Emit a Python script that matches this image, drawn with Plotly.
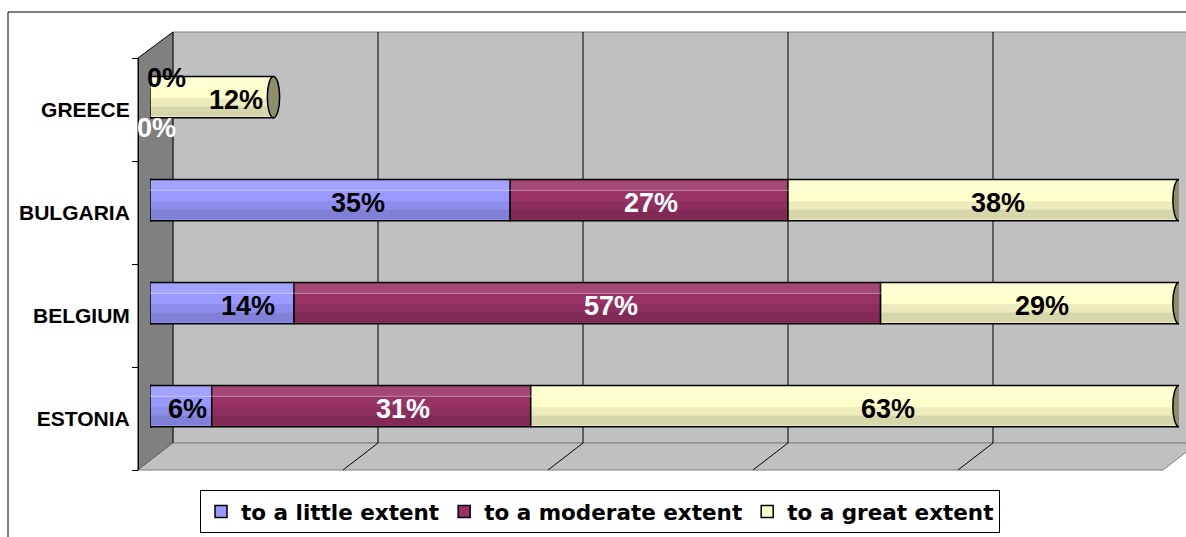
import plotly.graph_objects as go

# ---------------- data ----------------
categories = ["ESTONIA", "BELGIUM", "BULGARIA", "GREECE"]
series_names = ["to a little extent", "to a moderate extent", "to a great extent"]
little = [6, 14, 35, 0]
moderate = [31, 57, 27, 0]
great = [63, 29, 38, 12]
grid_values = [20, 40, 60, 80]

# ---------------- style ----------------
colors = ["#9999FF", "#993366", "#FFFFCC"]
label_colors = ["black", "white", "black"]
# horizontal nudges (px) of the value labels, as placed by the original 3-D renderer
label_nudge = [
    [7, 26, 28, 16],
    [32, 24, 2, 6],
    [33, 12, 15, 24],
]
# vertical nudges used only for zero-width segments (stacked above / below the bar)
zero_lift = [19.5, -30.5, 0]
cap_color = "#8E8E6C"
W, H = 1186, 537
ARIAL = "Arial, Liberation Sans, sans-serif"
LEGEND_FONT = "DejaVu Sans, sans-serif"
BAR_W = 0.40
BAR_OFF = -0.079

# cylinder shading bands: (start fraction from bottom, height fraction, rgba overlay)
shade_bands = [
    (0.03, 0.24, "rgba(0,0,0,0.16)"),
    (0.27, 0.20, "rgba(0,0,0,0.08)"),
    (0.72, 0.03, "rgba(255,255,255,0.35)"),
    (0.75, 0.22, "rgba(255,255,255,0.10)"),
]


def px(x):
    return x / W


def py(y):
    return 1 - y / H


series = [little, moderate, great]
fig = go.Figure()

# main bars (legend entries)
bases_list = []
bases = [0] * len(categories)
for name, vals, col in zip(series_names, series, colors):
    bases_list.append(list(bases))
    fig.add_trace(go.Bar(
        y=categories, x=vals, base=list(bases), orientation="h", name=name,
        marker=dict(color=col, line=dict(color="black", width=1.5)),
        width=BAR_W, offset=BAR_OFF,
        hovertemplate="%{y}: %{x}%<extra>" + name + "</extra>",
    ))
    bases = [b + v for b, v in zip(bases, vals)]
totals = bases

# shading overlays across the whole cylinder
for start, frac, rgba in shade_bands:
    fig.add_trace(go.Bar(
        y=categories, x=totals, base=[0] * len(categories), orientation="h",
        marker=dict(color=rgba, line=dict(width=0)),
        width=BAR_W * frac, offset=BAR_OFF + BAR_W * start,
        showlegend=False, hoverinfo="skip",
    ))

# value labels
annotations = []
for k, (vals, b, lc) in enumerate(zip(series, bases_list, label_colors)):
    for i, (v, b0) in enumerate(zip(vals, b)):
        yc = i + BAR_OFF + BAR_W / 2
        dy = -2.5 if v > 0 else zero_lift[k]
        annotations.append(dict(
            x=b0 + v / 2, y=yc, xref="x", yref="y", text=f"{v}%", showarrow=False,
            xshift=label_nudge[k][i], yshift=dy,
            font=dict(family=ARIAL, size=27, color=lc, weight="bold")))

shapes = []
# chart border
shapes.append(dict(type="rect", xref="paper", yref="paper", x0=px(8), x1=px(1200),
                   y0=py(560), y1=py(12), line=dict(color="black", width=1),
                   fillcolor="rgba(0,0,0,0)", layer="below"))
# back wall
shapes.append(dict(type="rect", xref="paper", yref="paper", x0=px(173), x1=px(1198),
                   y0=py(443), y1=py(32), line=dict(color="#808080", width=1),
                   fillcolor="#C0C0C0", layer="below"))
# side wall
shapes.append(dict(type="path", xref="paper", yref="paper",
                   path=f"M{px(138)},{py(58)} L{px(173)},{py(32)} L{px(173)},{py(443)} L{px(138)},{py(470)} Z",
                   line=dict(color="black", width=1), fillcolor="#808080", layer="below"))
# floor
shapes.append(dict(type="path", xref="paper", yref="paper",
                   path=f"M{px(138)},{py(470)} L{px(173)},{py(443)} L{px(1198)},{py(443)} L{px(1163)},{py(470)} Z",
                   line=dict(color="#808080", width=1), fillcolor="#C0C0C0", layer="below"))
# gridlines on back wall + floor
for v in grid_values:
    xb = 173 + v * 10.25
    shapes.append(dict(type="path", xref="paper", yref="paper",
                       path=f"M{px(xb)},{py(32)} L{px(xb)},{py(443)} L{px(xb - 35)},{py(470)}",
                       line=dict(color="black", width=1), layer="below"))

# cylinder end caps
for i, tot in enumerate(totals):
    y0 = i + BAR_OFF
    y1 = y0 + BAR_W
    first_col = next(c for s, c in zip(series, colors) if s[i] > 0)
    shapes.append(dict(type="circle", xref="x", yref="y", x0=-0.5, x1=0.8, y0=y0, y1=y1,
                       fillcolor=first_col, line=dict(color="black", width=1.5), layer="below"))
    shapes.append(dict(type="circle", xref="x", yref="y", x0=tot - 0.6, x1=tot + 0.6, y0=y0, y1=y1,
                       fillcolor=cap_color, line=dict(color="black", width=1.5), layer="above"))

fig.update_layout(
    width=W, height=H, autosize=False,
    margin=dict(l=0, r=0, t=0, b=0),
    paper_bgcolor="white", plot_bgcolor="rgba(0,0,0,0)",
    barmode="overlay",
    shapes=shapes, annotations=annotations,
    xaxis=dict(domain=[px(150), px(1179)], range=[0, 100], visible=False, anchor="y"),
    yaxis=dict(domain=[py(470), py(58)], range=[-0.5, 3.5], anchor="free", position=px(138),
               categoryorder="array", categoryarray=categories,
               showline=True, linecolor="black", linewidth=1,
               ticks="outside", ticklen=6, tickcolor="black", tickson="boundaries",
               ticklabelstandoff=4,
               showgrid=False, zeroline=False,
               tickfont=dict(family=ARIAL, size=21, color="black", weight="bold")),
    legend=dict(orientation="h", x=px(200), xanchor="left", y=py(490), yanchor="top",
                bgcolor="white", bordercolor="black", borderwidth=1,
                font=dict(family=LEGEND_FONT, size=21.5, color="black", weight="bold"),
                traceorder="normal"),
    showlegend=True,
)

fig.write_html("out.html")
